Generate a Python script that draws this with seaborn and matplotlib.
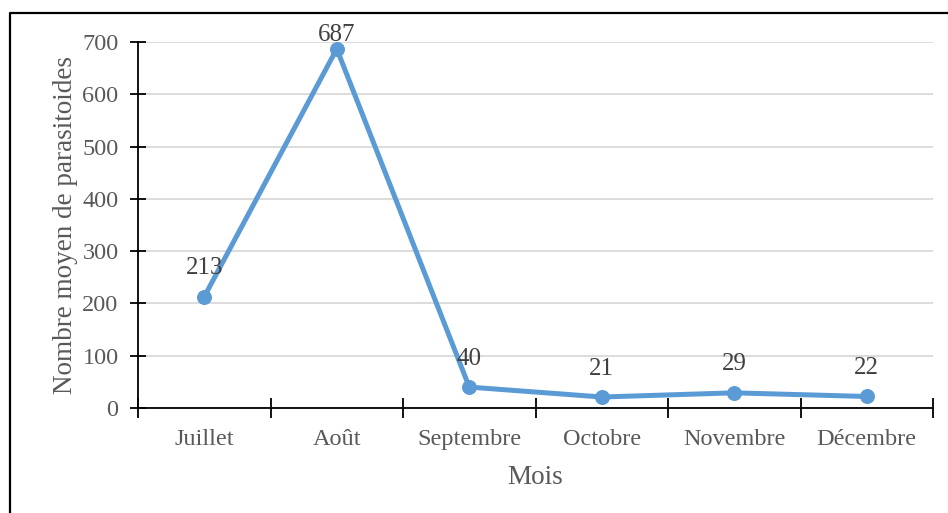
import matplotlib
matplotlib.use("Agg")
import matplotlib.pyplot as plt
import seaborn as sns
import pandas as pd
from matplotlib.lines import Line2D

mois = ["Juillet", "Août", "Septembre", "Octobre", "Novembre", "Décembre"]
moyenne = [213, 687, 40, 21, 29, 22]
yticks = [0, 100, 200, 300, 400, 500, 600, 700]

df = pd.DataFrame({"Mois": mois, "Total": moyenne, "pos": range(len(mois))})

sns.set_style("white")
plt.rcParams["font.family"] = ["Liberation Serif", "DejaVu Serif"]

fig = plt.figure(figsize=(9.48, 5.13), dpi=100)
ax = fig.add_axes([0.1456, 0.2047, 0.8386, 0.7133])

sns.lineplot(data=df, x="pos", y="Total", ax=ax, color="#5B9BD5", linewidth=3.6,
             marker="o", markersize=10, markeredgecolor="#5B9BD5")

# etiquetas de datos
for i, v in enumerate(moyenne):
    dy = 10 if v == max(moyenne) else 20.5
    ax.annotate(str(v), (i, v), xytext=(0, dy), textcoords="offset points",
                ha="center", va="center", fontsize=18, color="#404040")

ax.set_xlim(-0.5, len(mois) - 0.5)
ax.set_ylim(0, 700)
ax.set_yticks(yticks)
ax.set_yticklabels([str(t) for t in yticks])
ax.set_xticks([i - 0.5 for i in range(len(mois) + 1)])
ax.set_xticklabels([])
ax.set_xticks(range(len(mois)), minor=True)
ax.set_xticklabels(mois, minor=True)

ax.tick_params(axis="x", which="major", bottom=True, direction="inout", length=14,
               width=1.3, color="black")
ax.tick_params(axis="x", which="minor", bottom=True, length=0, pad=15, labelsize=17.5,
               labelcolor="#595959")
ax.tick_params(axis="y", left=True, direction="inout", length=12, width=1.3, color="black",
               pad=8, labelsize=17.5, labelcolor="#595959")

ax.grid(axis="y", color="#D9D9D9", linewidth=1.3)
ax.set_axisbelow(True)
for s in ["top", "right"]:
    ax.spines[s].set_visible(False)
for s in ["left", "bottom"]:
    ax.spines[s].set_color("black")
    ax.spines[s].set_linewidth(1.3)

ax.set_xlabel("Mois", fontsize=19.5, color="#595959", labelpad=11)
ax.set_ylabel("Nombre moyen de parasitoides", fontsize=19.5, color="#595959", labelpad=3)

# marco del gráfico
fig.add_artist(Line2D([0.0105, 0.0105, 1.0], [0.0, 0.9747, 0.9747],
                      transform=fig.transFigure, color="black", linewidth=1.6))

plt.savefig("out.png", dpi=100)
plt.close()
